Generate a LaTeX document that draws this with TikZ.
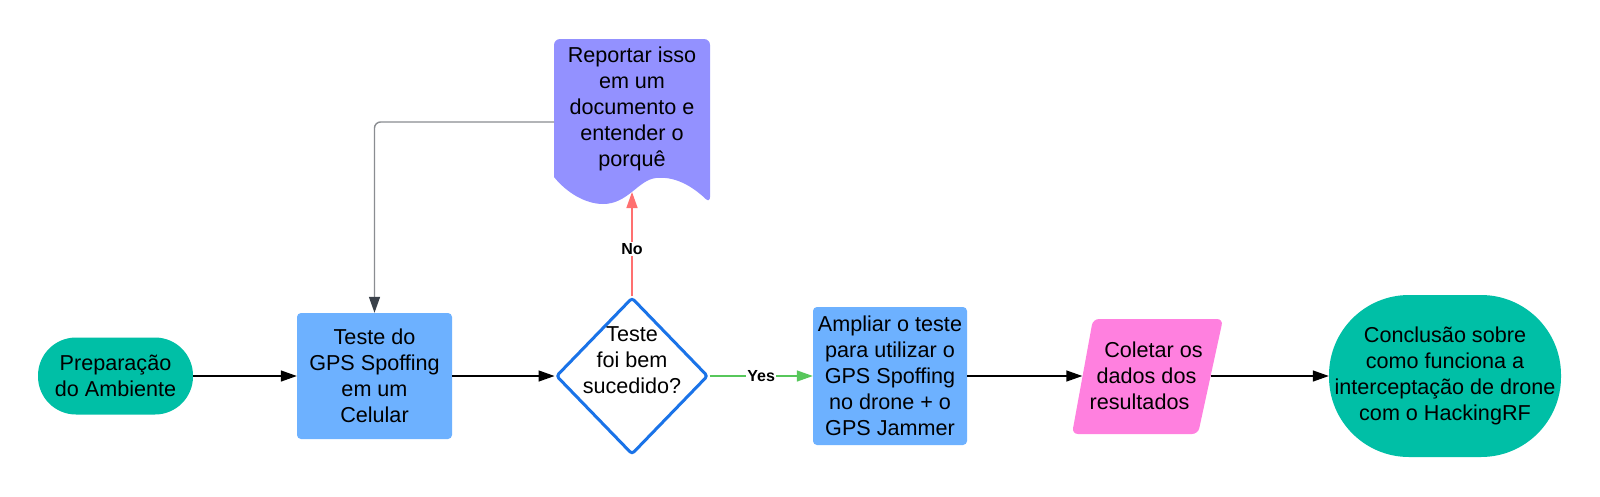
\documentclass[tikz,border=0pt]{standalone}
\usepackage{fontspec}
\setmainfont{Liberation Sans}
\usetikzlibrary{arrows.meta,shapes.geometric}
\definecolor{cteal}{HTML}{00BFA6}
\definecolor{cblue}{HTML}{6DB1FF}
\definecolor{cpurple}{HTML}{9391FF}
\definecolor{cpink}{HTML}{FF80DF}
\definecolor{cdia}{HTML}{1A73E8}
\definecolor{cred}{HTML}{FF7070}
\definecolor{cgreen}{HTML}{57C75B}
\definecolor{cgrayline}{HTML}{8A8D91}
\definecolor{cgraytip}{HTML}{3A414A}
\begin{document}
\begin{tikzpicture}[x=1pt,y=-1pt,
  base/.style={align=center,font=\fontsize{21.6}{26}\selectfont,inner sep=0pt,text=black},
  term/.style={base,fill=cteal,rectangle,rounded corners=#1},
  proc/.style={base,fill=cblue,rounded corners=4pt},
  arr/.style={-{Triangle[length=16pt,width=11pt]},line width=1.4pt},
  lbl/.style={fill=white,inner sep=1.5pt,text=black,font=\fontsize{16}{18}\selectfont\bfseries}]
\useasboundingbox (0,0) rectangle (1600,496);
\fill[white] (0,0) rectangle (1600,496);

% document shape
\fill[cpurple,rounded corners=6pt] (554,177) -- (554,39) -- (710,39) -- (710,203) [sharp corners]
  .. controls (692,186) and (675,176) .. (656,178)
  .. controls (638,180) and (628,204) .. (603,204)
  .. controls (585,204) and (566,192) .. (554,177) -- cycle;
% parallelogram shape
\fill[cpink,rounded corners=6pt] (1093,319) -- (1223,319) -- (1198,434) -- (1072,434) -- cycle;

\node[term=38pt,minimum width=155pt,minimum height=77pt] (prep) at (115.5,376) {Preparação\\do Ambiente};
\node[proc,minimum width=155pt,minimum height=126pt] (teste) at (374.5,376) {Teste do\\GPS Spoffing\\em um\\Celular};
\node[draw=cdia,line width=3pt,diamond,minimum width=152pt,minimum height=157pt,inner sep=0pt,rounded corners=3pt,fill=white] (dia) at (632,376) {};
\node[base] (diatext) at (632,360) {Teste\\foi bem\\sucedido?};
\node[base,minimum width=156pt] (doc) at (632,109) {Reportar isso\\em um\\documento e\\entender o\\porquê};
\coordinate (docw) at (554,122);
\coordinate (docb) at (632,192);
\node[proc,minimum width=154pt,minimum height=138pt] (ampl) at (890,376) {Ampliar o teste\\para utilizar o\\GPS Spoffing\\no drone + o\\GPS Jammer};
\node[base,minimum width=128pt,minimum height=115pt] (colet) at (1146.5,376) {\hspace*{14pt}Coletar os\\dados dos\\resultados\hspace*{14pt}};
\node[term=80pt,minimum width=232pt,minimum height=162pt] (concl) at (1445,376) {Conclusão sobre\\como funciona a\\interceptação de drone\\com o HackingRF};

\draw[arr] (prep.east) -- (teste.west);
\draw[arr] (teste.east) -- (dia.west);
\draw[arr,cgreen] (dia.east) -- node[lbl]{Yes} (ampl.west);
\draw[arr,cred] (dia.north) -- node[lbl,pos=0.45]{No} (docb);
\draw[line width=1.4pt,cgrayline,rounded corners=6pt,-{Triangle[length=16pt,width=11pt,color=cgraytip]}] (docw) -| (teste.north);
\draw[arr] (ampl.east) -- (colet.west);
\draw[arr] (colet.east) -- (concl.west);
\end{tikzpicture}
\end{document}
